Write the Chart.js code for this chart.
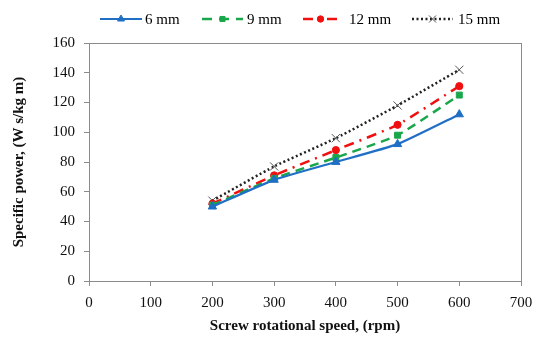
<!DOCTYPE html>
<html><head><meta charset="utf-8">
<script src="https://cdn.jsdelivr.net/npm/chart.js@4"></script>
<style>html,body{margin:0;padding:0;background:#fff}#wrap{width:534px;height:337px}</style>
</head><body><div id="wrap"><canvas id="c" width="534" height="337"></canvas></div>
<script>
const speeds = [200, 300, 400, 500, 600];
const s6mm = [50, 68, 80, 92, 112];
const s9mm = [51, 69, 83, 98, 125];
const s12mm = [52, 71, 88, 105, 131];
const s15mm = [54, 77, 96, 118, 142];
const seriesNames = ['6 mm', '9 mm', '12 mm', '15 mm'];
const xTicks = [0, 100, 200, 300, 400, 500, 600, 700];
const yTicks = [0, 20, 40, 60, 80, 100, 120, 140, 160];

const FONT = "'Liberation Serif', 'Times New Roman', serif";
const pts = arr => speeds.map((x, i) => ({x: x, y: arr[i]}));

const styles = [
  {color: '#1f6fc5', dash: [], pointStyle: 'triangle', r: 4.8, lr: 4, width: 2.2},
  {color: '#1aa64a', dash: [9, 6], pointStyle: 'rect', r: 4.2, lr: 3.6, width: 2.5},
  {color: '#f01010', dash: [10, 6, 2, 6], pointStyle: 'circle', r: 3.6, lr: 3.2, width: 2.5},
  {color: '#222222', dash: [2, 2.5], pointStyle: 'crossRot', r: 5.8, lr: 5, width: 2.5}
];
const allData = [s6mm, s9mm, s12mm, s15mm];

const datasets = allData.map((d, i) => ({
  label: seriesNames[i],
  data: pts(d),
  borderColor: styles[i].color,
  backgroundColor: styles[i].color,
  borderDash: styles[i].dash,
  borderWidth: styles[i].width,
  pointStyle: styles[i].pointStyle,
  pointRadius: styles[i].r,
  pointBorderWidth: 1,
  pointBorderColor: i === 3 ? '#555' : styles[i].color,
  tension: 0.15
}));

const frame = {
  id: 'frame',
  beforeDatasetsDraw(chart) {
    const {ctx, chartArea: a} = chart;
    ctx.save();
    ctx.strokeStyle = '#8c8c8c';
    ctx.lineWidth = 1;
    ctx.strokeRect(Math.round(a.left) + 0.5, Math.round(a.top) + 0.5, Math.round(a.right - a.left), Math.round(a.bottom - a.top));
    ctx.restore();
  },
  afterDraw(chart) {
    const ctx = chart.ctx;
    const items = [
      {x0: 100, x1: 142, tx: 145},
      {x0: 202, x1: 243, tx: 247},
      {x0: 303, x1: 338, tx: 349},
      {x0: 412, x1: 453, tx: 458}
    ];
    const y = 19;
    ctx.save();
    items.forEach((it, i) => {
      const st = styles[i];
      ctx.strokeStyle = st.color;
      ctx.lineWidth = st.width;
      ctx.setLineDash(i === 1 ? [10, 7] : st.dash);
      ctx.beginPath();
      ctx.moveTo(it.x0, y);
      ctx.lineTo(it.x1, y);
      ctx.stroke();
      ctx.setLineDash([]);
      ctx.fillStyle = st.color;
      ctx.strokeStyle = i === 3 ? '#555' : st.color;
      ctx.lineWidth = 1;
      Chart.helpers.drawPoint(ctx, {pointStyle: st.pointStyle, radius: st.lr, borderWidth: 1}, (it.x0 + it.x1) / 2, y);
      ctx.fillStyle = '#000';
      ctx.font = '15px ' + FONT;
      ctx.textBaseline = 'middle';
      ctx.fillText(seriesNames[i], it.tx, y + 1);
    });
    ctx.restore();
  }
};

new Chart(document.getElementById('c'), {
  type: 'line',
  data: {datasets},
  options: {
    responsive: false,
    animation: false,
    devicePixelRatio: 1,
    layout: {padding: {top: 43, right: 13, left: 0, bottom: 0}},
    plugins: {legend: {display: false}, tooltip: {enabled: false}},
    scales: {
      x: {
        type: 'linear', min: 0, max: 700,
        afterBuildTicks(s) { s.ticks = xTicks.map(v => ({value: v})); },
        afterFit(s) { s.height = 56; s.paddingLeft = 0; s.paddingRight = 0; },
        grid: {display: true, drawOnChartArea: false, drawTicks: true, tickLength: 5, color: '#8c8c8c'},
        border: {color: '#8c8c8c'},
        ticks: {color: '#111', font: {family: FONT, size: 15}, padding: 8, maxRotation: 0},
        title: {display: true, text: 'Screw rotational speed, (rpm)', color: '#111',
          font: {family: FONT, size: 15, weight: 'bold'}, padding: {top: 2, bottom: 2}}
      },
      y: {
        min: 0, max: 160,
        afterBuildTicks(s) { s.ticks = yTicks.map(v => ({value: v})); },
        afterFit(s) { s.width = 89; s.paddingTop = 0; s.paddingBottom = 0; },
        grid: {display: true, drawOnChartArea: false, drawTicks: true, tickLength: 5, color: '#8c8c8c'},
        border: {color: '#8c8c8c'},
        ticks: {color: '#111', font: {family: FONT, size: 15}, padding: 9},
        title: {display: true, text: 'Specific power, (W s/kg m)', color: '#111',
          font: {family: FONT, size: 15, weight: 'bold'}, padding: {top: 10, bottom: 4}}
      }
    }
  },
  plugins: [frame]
});
</script></body></html>
